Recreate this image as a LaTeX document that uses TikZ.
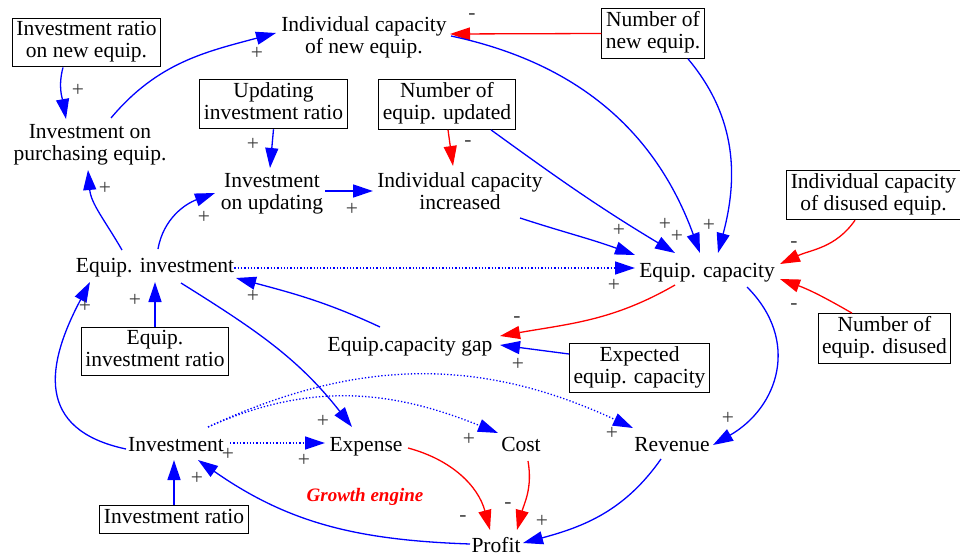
\documentclass[tikz,border=0pt]{standalone}
\usepackage{fontspec}
\setmainfont{Liberation Serif}
\usetikzlibrary{arrows.meta,calc}
\definecolor{lnblue}{RGB}{0,0,255}
\definecolor{lnred}{RGB}{255,0,0}
\definecolor{signgray}{RGB}{60,60,60}
\begin{document}
\begin{tikzpicture}[x=1pt,y=1pt,
  every node/.style={font=\fontsize{21.5}{22}\selectfont, align=center,
    inner sep=0pt, execute at begin node=\strut, execute at end node=\strut},
  var/.style={},
  varbox/.style={draw=black, line width=1pt, inner xsep=4pt, inner ysep=3pt},
  sgn/.style={text=signgray},
  link/.style={line width=1.3pt, -{Triangle[length=20pt,width=13pt]}},
  plink/.style={link, draw=lnblue},
  nlink/.style={link, draw=lnred},
  wlink/.style={plink, dash pattern=on 1.3pt off 2pt},
  engine/.style={font=\fontsize{19}{22}\selectfont\bfseries\itshape, text=lnred}]
\path[use as bounding box] (0,0) rectangle (960,-556);

% variables with a box (exogenous inputs)
\node[varbox] (irn) at (86.5,-42.5) {Investment ratio\\on new equip.};
\node[varbox] (nne) at (653,-33.5) {Number of\\new equip.};
\node[varbox] (uir) at (273.5,-104) {Updating\\investment ratio};
\node[varbox] (neu) at (447,-104.5) {Number of\\equip. updated};
\node[varbox] (icd) at (873.5,-195) {Individual capacity\\of disused equip.};
\node[varbox] (eir) at (155,-351.5) {Equip.\\investment ratio};
\node[varbox] (ecx) at (639.5,-368) {Expected\\equip. capacity};
\node[varbox] (ned) at (884.5,-338.5) {Number of\\equip. disused};
\node[varbox] (ir)  at (174,-519) {Investment ratio};

% plain variables
\node[var] (ip)  at (90,-146) {Investment on\\purchasing equip.};
\node[var] (icn) at (364,-38) {Individual capacity\\of new equip.};
\node[var] (iu)  at (272,-195) {Investment\\on updating};
\node[var] (ici) at (460,-194) {Individual capacity\\increased};
\node[var] (ei)  at (155,-268) {Equip. investment};
\node[var] (ec)  at (707,-273) {Equip. capacity};
\node[var] (gap) at (410,-347) {Equip.capacity gap};
\node[var] (inv) at (176,-447) {Investment};
\node[var] (exp) at (366,-447) {Expense};
\node[var] (cost) at (521,-447) {Cost};
\node[var] (rev) at (672,-447) {Revenue};
\node[var] (profit) at (496,-548) {Profit};
\node[engine] (ge) at (365,-497) {Growth engine};

% causal links
\draw[plink] ([xshift=-23.5pt]irn.south) to[out=-105,in=100] ($(ip)+(-24,27)$);
\draw[plink] ($(ip)+(21,28)$) to[out=50,in=195] ($(icn)+(-88,5)$);
\draw[plink] (uir.south) -- ($(iu)+(-2,27)$);
\draw[nlink] ([xshift=1pt]neu.south) -- ($(ici)+(-7,28)$);
\draw[nlink] (nne.west) -- ($(icn)+(86,4)$);
\draw[plink] ([xshift=35pt]nne.south) to[out=-50,in=75] ($(ec)+(11,20)$);
\draw[plink] ($(icn)+(87,2)$) to[out=-12,in=110] ($(ec)+(-7,20)$);
\draw[plink] ([xshift=44pt]neu.south) to[out=-36,in=149] ($(ec)+(-32,20)$);
\draw[plink] ($(ici)+(60,-24)$) to[out=-18,in=160] ($(ec)+(-72,18)$);
\draw[wlink] (ei.east) -- ($(ec)+(-72,5)$);
\draw[nlink] ([xshift=-18.5pt]icd.south) to[out=-125,in=25] ($(ec)+(73,9)$);
\draw[nlink] ([xshift=-32.5pt]ned.north) to[out=150,in=-20] ($(ec)+(73,-6)$);
\draw[nlink] ($(ec)+(-32,-12)$) to[out=-150,in=10] ($(gap)+(90,11)$);
\draw[plink] ([yshift=14pt]ecx.west) -- ($(gap)+(90,2)$);
\draw[plink] ($(gap)+(-30,20)$) to[out=155,in=-15] ($(ei)+(81,-10)$);
\draw[plink] (eir.north) -- ($(ei)+(0,-14)$);
\draw[plink] ($(ei)+(-33,18)$) to[out=120,in=-85] ($(ip)+(-2,-24)$);
\draw[plink] ($(ei)+(3,19)$) to[out=80,in=200] ($(iu)+(-57,2)$);
\draw[plink] ($(iu)+(53,4)$) -- ($(ici)+(-87,3)$);
\draw[plink] ($(ei)+(26,-15)$) to[out=-32,in=128] ($(exp)+(-14,20)$);
\draw[wlink] ($(inv)+(54,4)$) -- ($(exp)+(-41,4)$);
\draw[wlink] ($(inv)+(32,20)$) to[out=24,in=158] ($(cost)+(-23,14)$);
\draw[wlink] ($(inv)+(32,20)$) to[out=25,in=155] ($(rev)+(-39,19)$);
\draw[plink] ($(inv)+(-50,-2)$) to[out=168,in=-118,looseness=1.4] ($(ei)+(-65,-14)$);
\draw[plink] (ir.north) -- ($(inv)+(-2,-13)$);
\draw[plink] ($(profit)+(-26,4)$) to[out=178,in=-35] ($(inv)+(22,-13)$);
\draw[nlink] ($(exp)+(42,-1)$) to[out=-15,in=105] ($(profit)+(-6,18)$);
\draw[nlink] ($(cost)+(7,-14)$) to[out=-80,in=75] ($(profit)+(21,18)$);
\draw[plink] ($(rev)+(-11,-12)$) to[out=-125,in=15] ($(profit)+(27,5)$);
\draw[plink] ($(ec)+(40,-14)$) to[out=-45,in=30,looseness=1.2] ($(rev)+(41,2)$);

% polarity signs
\node[sgn] (s1)  at (78,-92)   {+};
\node[sgn] (s2)  at (257,-55)  {+};
\node[sgn] (s3)  at (253,-146) {+};
\node[sgn] (s4)  at (468,-142) {-};
\node[sgn] (s5)  at (472,-15)  {-};
\node[sgn] (s6)  at (709,-227) {+};
\node[sgn] (s7)  at (677,-238) {+};
\node[sgn] (s8)  at (665,-226) {+};
\node[sgn] (s9)  at (619,-232) {+};
\node[sgn] (s10) at (614,-287) {+};
\node[sgn] (s11) at (794,-243) {-};
\node[sgn] (s12) at (794,-305) {-};
\node[sgn] (s13) at (517,-318) {-};
\node[sgn] (s14) at (518,-366) {+};
\node[sgn] (s15) at (253,-298) {+};
\node[sgn] (s16) at (135,-302) {+};
\node[sgn] (s17) at (105,-190) {+};
\node[sgn] (s18) at (204,-219) {+};
\node[sgn] (s19) at (352,-211) {+};
\node[sgn] (s20) at (323,-423) {+};
\node[sgn] (s21) at (304,-462) {+};
\node[sgn] (s22) at (469,-441) {+};
\node[sgn] (s23) at (612,-435) {+};
\node[sgn] (s24) at (85,-308)  {+};
\node[sgn] (s25) at (197,-480) {+};
\node[sgn] (s26) at (228,-456) {+};
\node[sgn] (s27) at (463,-517) {-};
\node[sgn] (s28) at (508,-504) {-};
\node[sgn] (s29) at (542,-523) {+};
\node[sgn] (s30) at (728,-420) {+};
\end{tikzpicture}
\end{document}
